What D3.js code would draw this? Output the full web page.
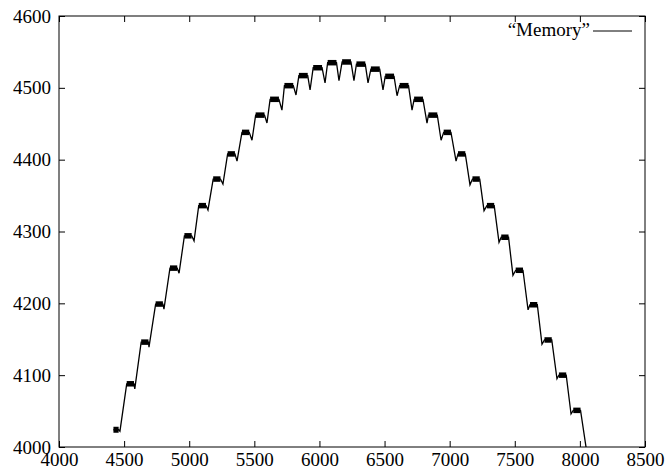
<!DOCTYPE html>
<html lang="en">
<head>
    <meta charset="UTF-8">
    <title>Memory</title>
    <script src="https://d3js.org/d3.v7.min.js"></script>
    <style>
        body { margin: 0; background: #fff; }
        text { font-family: "Liberation Serif", "DejaVu Serif", serif; fill: #000; }
    </style>
</head>
<body>
    <script>
        // plateaus: start x, end x, level
        var stepX0 = [4418, 4520, 4631, 4742, 4852, 4963, 5073, 5184, 5295, 5405, 5510, 5621, 5731, 5842, 5952, 6063, 6174,
                      6284, 6395, 6505, 6616, 6727, 6837, 6954, 7064, 7175, 7286, 7396, 7507, 7617, 7728, 7839, 7949]
        var stepX1 = [4458, 4576, 4687, 4798, 4908, 5019, 5129, 5240, 5351, 5461, 5578, 5689, 5799, 5910, 6020, 6131, 6242,
                      6352, 6463, 6573, 6684, 6795, 6905, 7010, 7120, 7231, 7342, 7452, 7563, 7673, 7784, 7895, 8005]
        var stepY = [4024, 4088, 4146, 4199, 4249, 4294, 4336, 4373, 4408, 4438, 4462, 4484, 4503, 4517, 4528, 4535, 4536,
                     4533, 4526, 4516, 4503, 4484, 4462, 4438, 4408, 4373, 4336, 4292, 4246, 4198, 4149, 4100, 4051]

        // dips between plateaus
        var dipX = [4468, 4582, 4691, 4806, 4922, 5037, 5144, 5259, 5367, 5482, 5597, 5712, 5820, 5928, 6043, 6150,
                    6265, 6373, 6488, 6596, 6711, 6826, 6934, 7049, 7156, 7264, 7379, 7486, 7602, 7709, 7824, 7932]
        var dipY = [4022, 4081, 4139, 4192, 4242, 4287, 4330, 4366, 4398, 4427, 4451, 4469, 4490, 4497, 4507, 4510,
                    4510, 4507, 4497, 4489, 4469, 4451, 4427, 4398, 4365, 4329, 4285, 4239, 4191, 4143, 4095, 4046]
        var lastPoint = [8052, 3994]

        var xTicks = [4000, 4500, 5000, 5500, 6000, 6500, 7000, 7500, 8000, 8500]
        var yTicks = [4000, 4100, 4200, 4300, 4400, 4500, 4600]

        var w = 668, h = 472
        var padL = 59, padR = 645, padT = 16, padB = 447

        var svg = d3.select('body').append('svg')
            .attr('width', w)
            .attr('height', h)

        var xScale = d3.scaleLinear().domain([4000, 8500]).range([padL, padR])
        var yScale = d3.scaleLinear().domain([4000, 4600]).range([padB, padT])

        svg.append('clipPath').attr('id', 'plot')
            .append('rect')
            .attr('x', padL).attr('y', padT)
            .attr('width', padR - padL).attr('height', padB - padT)

        // build the trace
        var pts = []
        for (var i = 0; i < stepY.length; i++) {
            pts.push([stepX0[i], stepY[i]])
            pts.push([stepX1[i], stepY[i]])
            if (i < dipX.length) pts.push([dipX[i], dipY[i]])
        }
        pts.push(lastPoint)

        var line = d3.line().x(d => xScale(d[0])).y(d => yScale(d[1]))

        var g = svg.append('g').attr('clip-path', 'url(#plot)')

        g.append('path')
            .datum(pts)
            .attr('d', line)
            .attr('fill', 'none')
            .attr('stroke', '#000')
            .attr('stroke-width', 1.3)

        // dense noisy plateaus look like thick bands
        g.selectAll('.band')
            .data(stepY)
            .enter()
            .append('line')
            .attr('class', 'band')
            .attr('x1', (d, i) => xScale(stepX0[i]))
            .attr('x2', (d, i) => xScale(stepX1[i]))
            .attr('y1', d => yScale(d))
            .attr('y2', d => yScale(d))
            .attr('stroke', '#000')
            .attr('stroke-width', (d, i) => i == 0 ? 6 : 5.5)

        // axes, ticks pointing inward on all sides
        var fmt = d3.format('d')
        var xAxis = d3.axisBottom(xScale).tickValues(xTicks).tickFormat(fmt).tickSizeInner(-6).tickSizeOuter(0).tickPadding(6)
        var yAxis = d3.axisLeft(yScale).tickValues(yTicks).tickFormat(fmt).tickSizeInner(-6).tickSizeOuter(0).tickPadding(8)

        svg.append('g')
            .attr('transform', 'translate(0,' + padB + ')')
            .call(xAxis)
        svg.append('g')
            .attr('transform', 'translate(' + padL + ',0)')
            .call(yAxis)

        svg.append('g')
            .attr('transform', 'translate(0,' + padT + ')')
            .call(d3.axisTop(xScale).tickValues(xTicks).tickSizeInner(-6).tickSizeOuter(0).tickFormat(''))
        svg.append('g')
            .attr('transform', 'translate(' + padR + ',0)')
            .call(d3.axisRight(yScale).tickValues(yTicks).tickSizeInner(-6).tickSizeOuter(0).tickFormat(''))

        svg.selectAll('.domain').remove()
        svg.selectAll('.tick line').attr('stroke', '#000')
        svg.selectAll('.tick text')
            .style('font-family', '"Liberation Serif", serif')
            .style('font-size', '19px')
            .attr('fill', '#000')

        svg.append('rect')
            .attr('x', padL).attr('y', padT)
            .attr('width', padR - padL).attr('height', padB - padT)
            .attr('fill', 'none')
            .attr('stroke', '#000')
            .attr('stroke-width', 1)

        // legend
        svg.append('text')
            .attr('x', 590)
            .attr('y', 36)
            .attr('text-anchor', 'end')
            .style('font-size', '19px')
            .text('\u201cMemory\u201d')
        svg.append('line')
            .attr('x1', 593).attr('x2', 632)
            .attr('y1', 31).attr('y2', 31)
            .attr('stroke', '#000')
            .attr('stroke-width', 1)
    </script>
</body>
</html>
